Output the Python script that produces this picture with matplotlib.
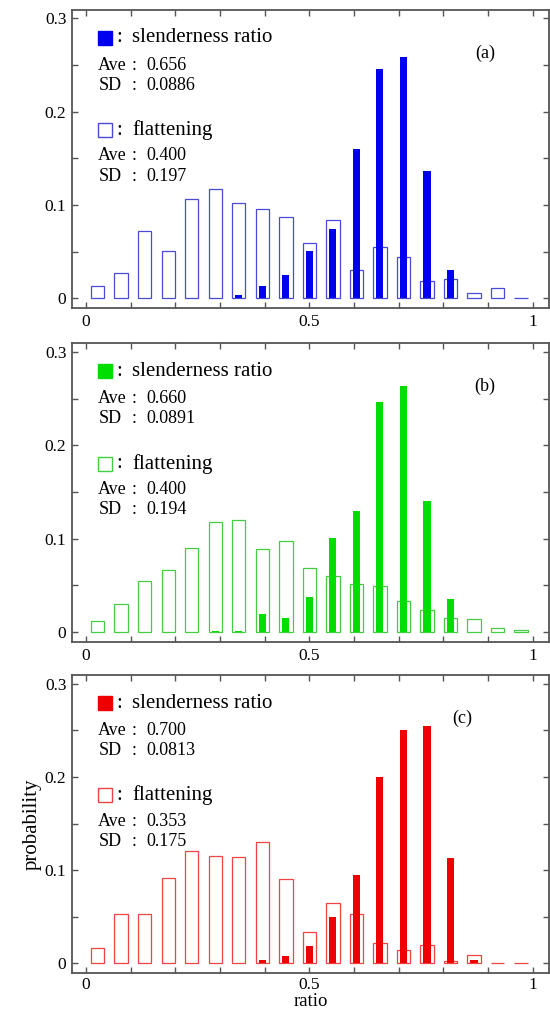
import numpy as np
import matplotlib.pyplot as plt
from matplotlib.ticker import FuncFormatter

plt.rcParams['font.family'] = ['Liberation Serif', 'DejaVu Serif']

# 19 bins over [0, 1]
bins = (np.arange(19) + 0.5) / 19

# flattening (open bars)
flat_a = [0.013, 0.027, 0.072, 0.051, 0.106, 0.117, 0.102, 0.096, 0.087, 0.059,
          0.084, 0.030, 0.055, 0.044, 0.019, 0.021, 0.006, 0.011, 0.0005]
flat_b = [0.012, 0.030, 0.055, 0.067, 0.090, 0.118, 0.120, 0.089, 0.098, 0.069,
          0.060, 0.051, 0.049, 0.033, 0.024, 0.015, 0.014, 0.004, 0.002]
flat_c = [0.016, 0.053, 0.053, 0.092, 0.121, 0.115, 0.114, 0.130, 0.090, 0.034,
          0.065, 0.053, 0.022, 0.014, 0.020, 0.002, 0.009, 0.0005, 0.0005]

# slenderness ratio (filled bars)
slen_a = [0, 0, 0, 0, 0, 0, 0.004, 0.013, 0.025, 0.051,
          0.074, 0.160, 0.246, 0.259, 0.136, 0.030, 0, 0, 0]
slen_b = [0, 0, 0, 0, 0, 0.001, 0.001, 0.019, 0.015, 0.038,
          0.101, 0.130, 0.246, 0.264, 0.140, 0.035, 0, 0, 0]
slen_c = [0, 0, 0, 0, 0, 0, 0, 0.004, 0.008, 0.018,
          0.050, 0.095, 0.200, 0.251, 0.255, 0.113, 0.003, 0, 0]

panels = [
    ("(a)", flat_a, slen_a, "#0000ee", "#4a4ad8", ("0.656", "0.0886"), ("0.400", "0.197"), 0.866),
    ("(b)", flat_b, slen_b, "#00dd00", "#44cc44", ("0.660", "0.0891"), ("0.400", "0.194"), 0.866),
    ("(c)", flat_c, slen_c, "#ee0000", "#ee4444", ("0.700", "0.0813"), ("0.353", "0.175"), 0.818),
]

fig = plt.figure(figsize=(5.5, 10.1), dpi=100)
boxes = [[0.131, 0.695, 0.867, 0.2955],
         [0.131, 0.3644, 0.867, 0.296],
         [0.131, 0.0366, 0.867, 0.295]]

for box, (tag, flat, slen, fcol, ocol, s_stats, f_stats, tagx) in zip(boxes, panels):
    ax = fig.add_axes(box)
    ax.bar(bins, flat, width=0.03, facecolor='none', edgecolor=ocol, linewidth=0.9, zorder=2)
    ax.bar(bins, slen, width=0.016, color=fcol, linewidth=0, zorder=3)

    ax.set_xlim(-0.031, 1.036)
    ax.set_ylim(-0.0105, 0.3095)
    ax.set_xticks(np.arange(0, 1.01, 0.1))
    ax.set_yticks(np.arange(0, 0.301, 0.05))
    ax.xaxis.set_major_formatter(FuncFormatter(
        lambda v, p: {0: "0", 5: "0.5", 10: "1"}.get(int(round(v * 10)), "")))
    ax.yaxis.set_major_formatter(FuncFormatter(
        lambda v, p: ("0" if abs(v) < 1e-9 else f"{v:.1f}") if int(round(v * 20)) % 2 == 0 else ""))
    ax.tick_params(direction='in', top=True, right=True, length=4, width=1,
                   color='#555555', labelsize=12.5, pad=4)
    for s in ax.spines.values():
        s.set_color('#555555')
        s.set_linewidth(1.3)

    # legend-like annotations
    ax.plot([0.069], [0.906], marker='s', ms=10, color=fcol, transform=ax.transAxes,
            clip_on=False)
    ax.text(0.092, 0.906, ":", transform=ax.transAxes, fontsize=15, va='center')
    ax.text(0.126, 0.906, "slenderness ratio", transform=ax.transAxes, fontsize=15, va='center')
    ax.plot([0.069], [0.596], marker='s', ms=10, markerfacecolor='none', markeredgecolor=ocol,
            markeredgewidth=1, transform=ax.transAxes, clip_on=False)
    ax.text(0.092, 0.596, ":", transform=ax.transAxes, fontsize=15, va='center')
    ax.text(0.126, 0.596, "flattening", transform=ax.transAxes, fontsize=15, va='center')

    for (ave, sd), (y1, y2) in [(s_stats, (0.814, 0.747)), (f_stats, (0.510, 0.442))]:
        for name, val, yy in [("Ave", ave, y1), ("SD", sd, y2)]:
            ax.text(0.055, yy, name, transform=ax.transAxes, fontsize=13, va='center')
            ax.text(0.124, yy, ":", transform=ax.transAxes, fontsize=13, va='center')
            ax.text(0.155, yy, val, transform=ax.transAxes, fontsize=13, va='center')

    ax.text(tagx, 0.855, tag, transform=ax.transAxes, fontsize=13, ha='center', va='center')

ax.tick_params(axis='x', pad=3)
ax.set_xlabel("ratio", fontsize=13.5, labelpad=0)
ax.set_ylabel("probability", fontsize=15, labelpad=2)

fig.savefig("out.png", dpi=100)
